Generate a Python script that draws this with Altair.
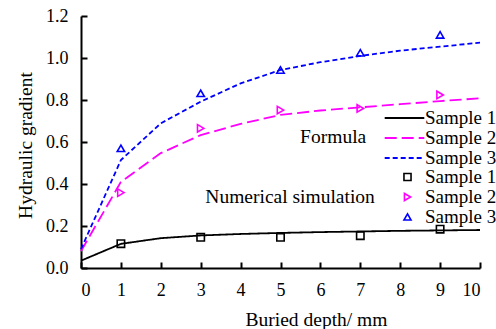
import altair as alt
import pandas as pd

# ---- data ----
series_names = ["Sample 1", "Sample 2", "Sample 3"]
formula_x = [0, 1, 2, 3, 4, 5, 6, 7, 8, 9, 10]
formula_s1 = [0.035, 0.115, 0.142, 0.155, 0.162, 0.167, 0.171, 0.174, 0.177, 0.179, 0.181]
formula_s2 = [0.08, 0.41, 0.547, 0.633, 0.686, 0.729, 0.75, 0.765, 0.78, 0.795, 0.808]
formula_s3 = [0.09, 0.514, 0.689, 0.792, 0.879, 0.943, 0.98, 1.01, 1.035, 1.054, 1.073]

sim_x = [1, 3, 5, 7, 9]
sim_s1 = [0.116, 0.146, 0.146, 0.154, 0.185]
sim_s2 = [0.359, 0.665, 0.752, 0.76, 0.824]
sim_s3 = [0.57, 0.832, 0.943, 1.025, 1.11]

x_ticks = list(range(11))
y_ticks = [0, 0.2, 0.4, 0.6, 0.8, 1.0, 1.2]

annot_text = ["Formula", "Numerical simulation"]
annot_x = [6.32, 5.24]
annot_y = [0.624, 0.338]

colors = ["#000000", "#ff00ff", "#0000ff"]
dashes = [[1, 0], [12, 5], [5, 3]]
shapes = ["square", "triangle-right", "triangle-up"]

FONT = "Liberation Serif"
TICK_FS = 18
TEXT_FS = 19.5
LEG_FS = 19

rows = []
for name, vals in zip(series_names, [formula_s1, formula_s2, formula_s3]):
    for x, v in zip(formula_x, vals):
        rows.append({"x": x, "v": v, "series": name})
df_lines = pd.DataFrame(rows)

rows = []
for name, vals in zip(series_names, [sim_s1, sim_s2, sim_s3]):
    for x, v in zip(sim_x, vals):
        rows.append({"x": x, "v": v, "series": name})
df_pts = pd.DataFrame(rows)

df_annot = pd.DataFrame({"text": annot_text, "x": annot_x, "y": annot_y})

xscale = alt.Scale(domain=[0, 10], nice=False, zero=False)
yscale = alt.Scale(domain=[0, 1.2], nice=False)

line_legend = alt.Legend(
    title=None, orient="none", legendX=314, legendY=92.5,
    symbolType="M-3.6,0H3.6", symbolSize=121, symbolStrokeWidth=1.8,
    labelFont=FONT, labelFontSize=LEG_FS, labelColor="black", labelOffset=11,
    rowPadding=0, padding=0,
)

lines = alt.Chart(df_lines).mark_line(strokeWidth=1.8).encode(
    x=alt.X("x:Q", scale=xscale, axis=alt.Axis(
        values=x_ticks, format="d", ticks=False, tickSize=0, domain=True,
        domainColor="black", domainWidth=2, grid=False,
        labelFont=FONT, labelFontSize=TICK_FS, labelColor="black", labelPadding=13,
        title="Buried depth/ mm", titleFont=FONT, titleFontSize=TEXT_FS,
        titleFontWeight="normal", titleColor="black",
        titleX=235, titleY=57, titleBaseline="alphabetic", titleAlign="center")),
    y=alt.Y("v:Q", scale=yscale, axis=alt.Axis(
        values=y_ticks, format=".1f", ticks=False, tickSize=0, domain=True,
        domainColor="black", domainWidth=2, grid=False,
        labelFont=FONT, labelFontSize=TICK_FS, labelColor="black", labelPadding=13,
        title="Hydraulic gradient", titleFont=FONT, titleFontSize=TEXT_FS,
        titleFontWeight="normal", titleColor="black",
        titleX=-56, titleY=129, titleBaseline="middle", titleAlign="center")),
    color=alt.Color("series:N", scale=alt.Scale(domain=series_names, range=colors),
                    legend=line_legend),
    strokeDash=alt.StrokeDash("series:N", scale=alt.Scale(domain=series_names, range=dashes),
                              legend=line_legend),
)

pt_legend = alt.Legend(
    title=None, orient="none", legendX=317, legendY=151.5,
    symbolSize=50, symbolStrokeWidth=1.6, symbolFillColor="transparent",
    labelFont=FONT, labelFontSize=LEG_FS, labelColor="black", labelOffset=8,
    rowPadding=0, padding=0,
)

points = alt.Chart(df_pts).mark_point(filled=False, size=55, strokeWidth=1.6, opacity=1).encode(
    x=alt.X("x:Q", scale=xscale, axis=alt.Axis(
        orient="bottom", values=x_ticks, labels=False, domain=False, ticks=True,
        tickSize=6, tickWidth=2, tickColor="black", offset=-6, grid=False, title=None)),
    y=alt.Y("v:Q", scale=yscale, axis=alt.Axis(
        orient="left", values=y_ticks, labels=False, domain=False, ticks=True,
        tickSize=6, tickWidth=2, tickColor="black", offset=-6, grid=False, title=None)),
    color=alt.Color("series:N", scale=alt.Scale(domain=series_names, range=colors),
                    legend=pt_legend),
    shape=alt.Shape("series:N", scale=alt.Scale(domain=series_names, range=shapes),
                    legend=pt_legend),
)

annots = alt.Chart(df_annot).mark_text(font=FONT, fontSize=TEXT_FS, color="black",
                                        align="center", baseline="middle").encode(
    x=alt.X("x:Q", scale=xscale, axis=None),
    y=alt.Y("y:Q", scale=yscale, axis=None),
    text="text:N",
)

chart = alt.layer(lines, points, annots).resolve_scale(
    color="independent", shape="independent", strokeDash="independent"
).resolve_axis(x="independent", y="independent").properties(
    width=399, height=252,
    autosize=alt.AutoSizeParams(type="none"),
    padding={"left": 81, "top": 16, "right": 16, "bottom": 61},
).configure(font=FONT, background="white").configure_view(stroke=None)

chart.save("out.html", embed_options={"renderer": "svg", "actions": False})
